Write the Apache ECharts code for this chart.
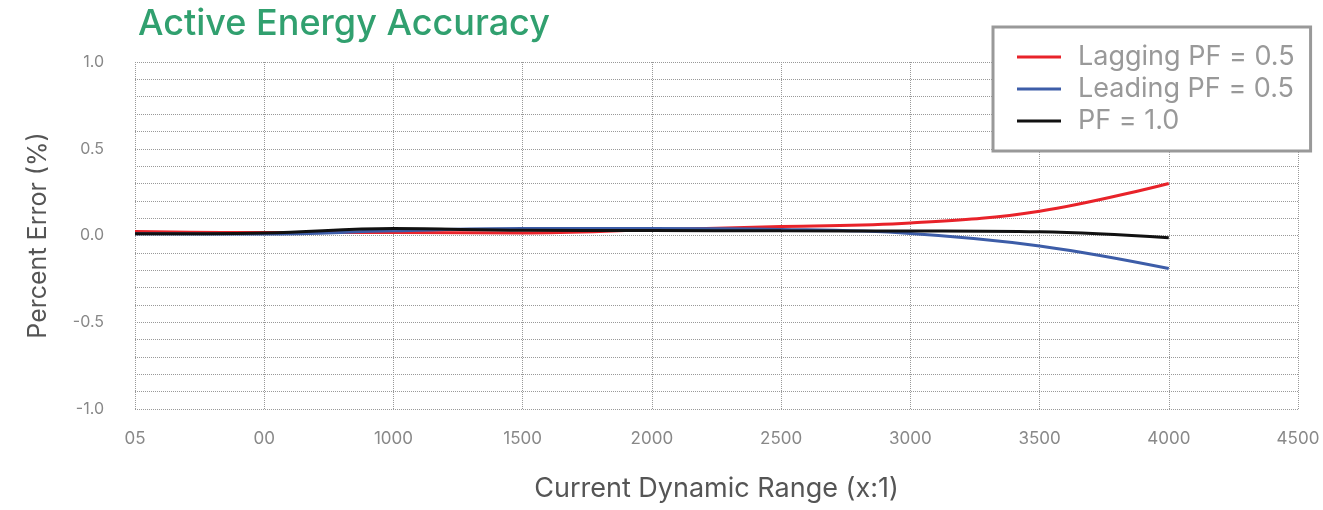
<!DOCTYPE html>
<html>
<head>
<meta charset="utf-8">
<script src="https://cdn.jsdelivr.net/npm/echarts@6/dist/echarts.min.js"></script>
<style>
  html, body { margin: 0; padding: 0; background: #fff; }
  #chart { width: 1323px; height: 510px; }
</style>
</head>
<body>
<div id="chart"></div>
<script>
// x positions (current dynamic range) and tick labels as printed
const xValues = [0, 500, 1000, 1500, 2000, 2500, 3000, 3500, 4000];
const xTickLabels = ['05', '00', '1000', '1500', '2000', '2500', '3000', '3500', '4000', '4500'];

// percent error readings
const lagging = [0.023, 0.017, 0.018, 0.015, 0.033, 0.052, 0.072, 0.14, 0.30];
const leading = [0.01, 0.008, 0.027, 0.04, 0.04, 0.035, 0.012, -0.06, -0.19];
const unity = [0.01, 0.015, 0.04, 0.03, 0.029, 0.027, 0.026, 0.021, -0.013];

const seriesNames = ['Lagging PF = 0.5', 'Leading PF = 0.5', 'PF = 1.0'];
const seriesColors = ['#e8232a', '#3d5da8', '#111111'];

const font = 'Inter, "Noto Sans", sans-serif';
const chart = echarts.init(document.getElementById('chart'));

const toPoints = (ys) => xValues.map((x, i) => [x, ys[i]]);

chart.setOption({
  animation: false,
  backgroundColor: '#fff',
  title: {
    text: 'Active Energy Accuracy',
    left: 133,
    top: 1,
    textStyle: { color: '#31a06f', fontSize: 36, fontWeight: 500, fontFamily: font },
  },
  legend: {
    orient: 'vertical',
    left: 993,
    top: 27,
    backgroundColor: '#fff',
    borderColor: '#999',
    borderWidth: 3,
    padding: [16, 16, 16, 24],
    itemGap: 4,
    itemWidth: 44,
    itemHeight: 3,
    icon: 'rect',
    textStyle: { color: '#999', fontSize: 27, fontFamily: font, padding: [0, 0, 0, 12], lineHeight: 28 },
    data: seriesNames,
  },
  grid: { left: 135, right: 25, top: 62, bottom: 101 },
  xAxis: {
    type: 'value',
    min: 0,
    max: 4500,
    interval: 500,
    name: 'Current Dynamic Range (x:1)',
    nameLocation: 'middle',
    nameGap: 66,
    nameTextStyle: { color: '#555', fontSize: 27, fontFamily: font },
    axisLine: { show: false },
    axisTick: { show: false },
    axisLabel: {
      color: '#888',
      fontSize: 17,
      fontFamily: font,
      margin: 21,
      formatter: (v) => xTickLabels[Math.round(v / 500)],
    },
    splitLine: { show: true, lineStyle: { color: '#999', type: 'dotted', width: 1 } },
  },
  yAxis: {
    type: 'value',
    min: -1,
    max: 1,
    interval: 0.1,
    name: 'Percent Error (%)',
    nameLocation: 'middle',
    nameGap: 84,
    nameTextStyle: { color: '#555', fontSize: 25, fontFamily: font },
    axisLine: { show: false },
    axisTick: { show: false },
    axisLabel: {
      color: '#888',
      fontSize: 16,
      fontFamily: font,
      margin: 31,
      formatter: (v) => {
        const r = Math.round(v * 10);
        return r % 5 === 0 ? (r / 10).toFixed(1) : '';
      },
    },
    splitLine: { show: true, lineStyle: { color: '#999', type: 'dotted', width: 1 } },
  },
  series: [lagging, leading, unity].map((ys, i) => ({
    name: seriesNames[i],
    type: 'line',
    data: toPoints(ys),
    smooth: 0.4,
    symbol: 'none',
    color: seriesColors[i],
    lineStyle: { width: 3, color: seriesColors[i] },
  })),
});
</script>
</body>
</html>
